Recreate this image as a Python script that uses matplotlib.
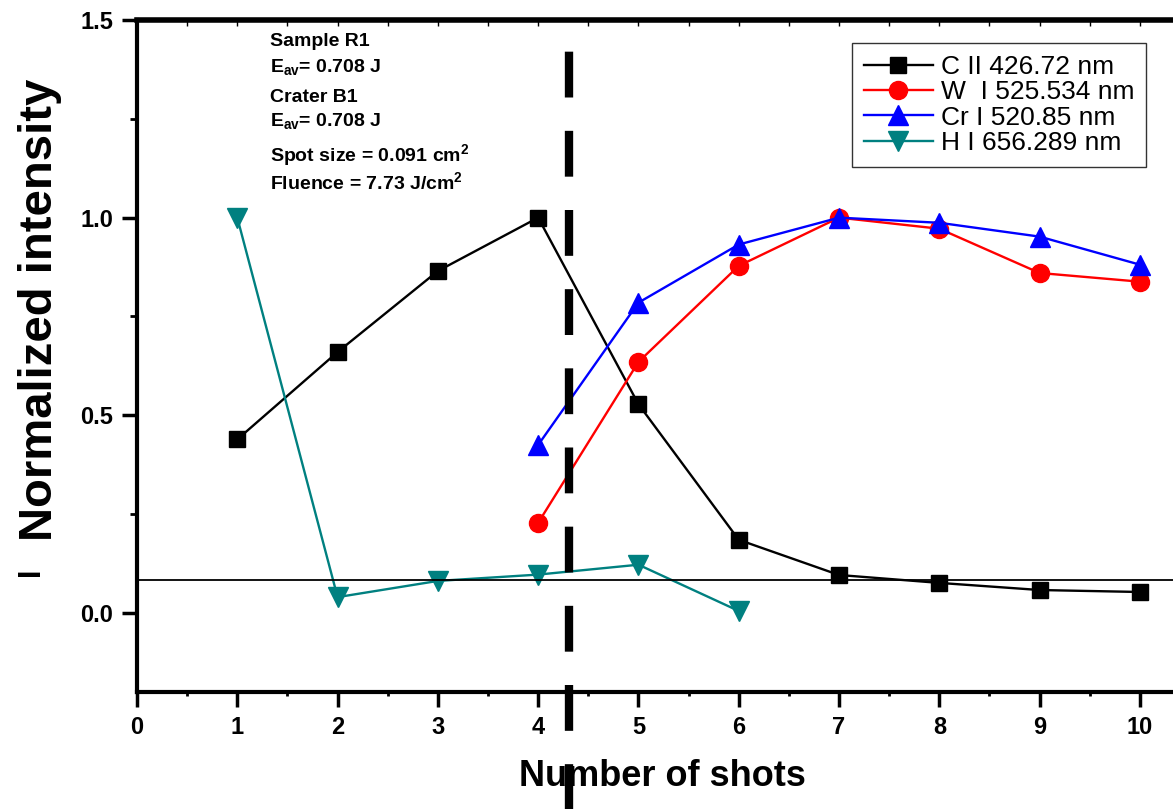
import matplotlib
matplotlib.use("Agg")
import matplotlib.pyplot as plt
from matplotlib.ticker import MultipleLocator

plt.rcParams['font.family'] = ['Liberation Sans', 'DejaVu Sans']
plt.rcParams['mathtext.default'] = 'bf'

# data
shots_c = [1, 2, 3, 4, 5, 6, 7, 8, 9, 10]
c_ii = [0.439, 0.66, 0.865, 1.0, 0.528, 0.185, 0.096, 0.076, 0.058, 0.053]

shots_w = [4, 5, 6, 7, 8, 9, 10]
w_i = [0.228, 0.635, 0.878, 1.0, 0.972, 0.86, 0.838]

shots_cr = [4, 5, 6, 7, 8, 9, 10]
cr_i = [0.425, 0.785, 0.932, 1.0, 0.987, 0.952, 0.881]

shots_h = [1, 2, 3, 4, 5, 6]
h_i = [1.0, 0.04, 0.081, 0.097, 0.122, 0.005]

labels = ["C II 426.72 nm", "W  I 525.534 nm", "Cr I 520.85 nm", "H I 656.289 nm"]
baseline = 0.084
divider = 4.31

fig = plt.figure(figsize=(11.73, 8.09), dpi=100)
ax = fig.add_axes([137/1173, 117/809, 1036/1173, 672/809])

ax.plot(shots_c, c_ii, color='black', marker='s', ms=11, lw=1.7, label=labels[0])
ax.plot(shots_w, w_i, color='red', marker='o', ms=13, lw=1.7, label=labels[1])
ax.plot(shots_cr, cr_i, color='blue', marker='^', ms=14, lw=1.7, label=labels[2])
ax.plot(shots_h, h_i, color='#008080', marker='v', ms=14, lw=1.7, label=labels[3])

ax.axhline(baseline, color='black', lw=1.3)
ax.axvline(divider, ymin=-0.18, ymax=1.0, color='black', lw=6,
           dashes=(5.5, 4), clip_on=False)

ax.set_xlim(0, 10.33)
ax.set_ylim(-0.2, 1.5)
ax.xaxis.set_major_locator(MultipleLocator(1))
ax.xaxis.set_minor_locator(MultipleLocator(0.5))
ax.set_yticks([0.0, 0.5, 1.0, 1.5])
ax.set_yticklabels(["0.0", "0.5", "1.0", "1.5"])
ax.yaxis.set_minor_locator(MultipleLocator(0.25))

for side in ['left', 'bottom']:
    ax.spines[side].set_linewidth(3)
ax.spines['top'].set_linewidth(4)
ax.spines['right'].set_visible(False)

ax.tick_params(axis='both', which='major', direction='out', length=11, width=2.5,
               labelsize=17, pad=6)
ax.tick_params(axis='both', which='minor', direction='out', length=5, width=2)
ax.tick_params(axis='x', which='minor', length=3)
for t in ax.get_xticklabels() + ax.get_yticklabels():
    t.set_fontweight('bold')

# small inward ticks along the top spine
top = ax.secondary_xaxis('top')
top.xaxis.set_major_locator(MultipleLocator(1))
top.xaxis.set_minor_locator(MultipleLocator(0.5))
top.tick_params(which='both', direction='in', length=4, width=1, labeltop=False)
top.spines['top'].set_visible(False)

fig.text(40/1173, 1 - 310/809, "Normalized intensity", rotation=90, ha='center',
         va='center', fontsize=34, fontweight='bold')
fig.text(31/1173, 1 - 572/809, "I", rotation=90, ha='center', va='center',
         fontsize=22, fontweight='bold')
fig.text(662/1173, 1 - 776/809, "Number of shots", ha='center', va='center',
         fontsize=26, fontweight='bold')

notes = ["Sample R1", r"E$_{\mathregular{av}}$= 0.708 J", "Crater B1",
         r"E$_{\mathregular{av}}$= 0.708 J", r"Spot size = 0.091 cm$^{\mathregular{2}}$",
         r"Fluence = 7.73 J/cm$^{\mathregular{2}}$"]
note_y = [42, 68, 97, 122, 156, 183]
for s, yy in zip(notes, note_y):
    fig.text(270/1173, 1 - yy/809, s, ha='left', va='center', fontsize=14,
             fontweight='bold')

leg = ax.legend(loc='upper right', bbox_to_anchor=((1146 - 137)/1036, (692 - 43)/672),
                fontsize=19, frameon=True, fancybox=False, edgecolor='black',
                handlelength=2.6, handletextpad=0.3, borderpad=0.45, labelspacing=0.05,
                borderaxespad=0)
leg.get_frame().set_linewidth(1.0)

fig.savefig("out.png", dpi=100)
